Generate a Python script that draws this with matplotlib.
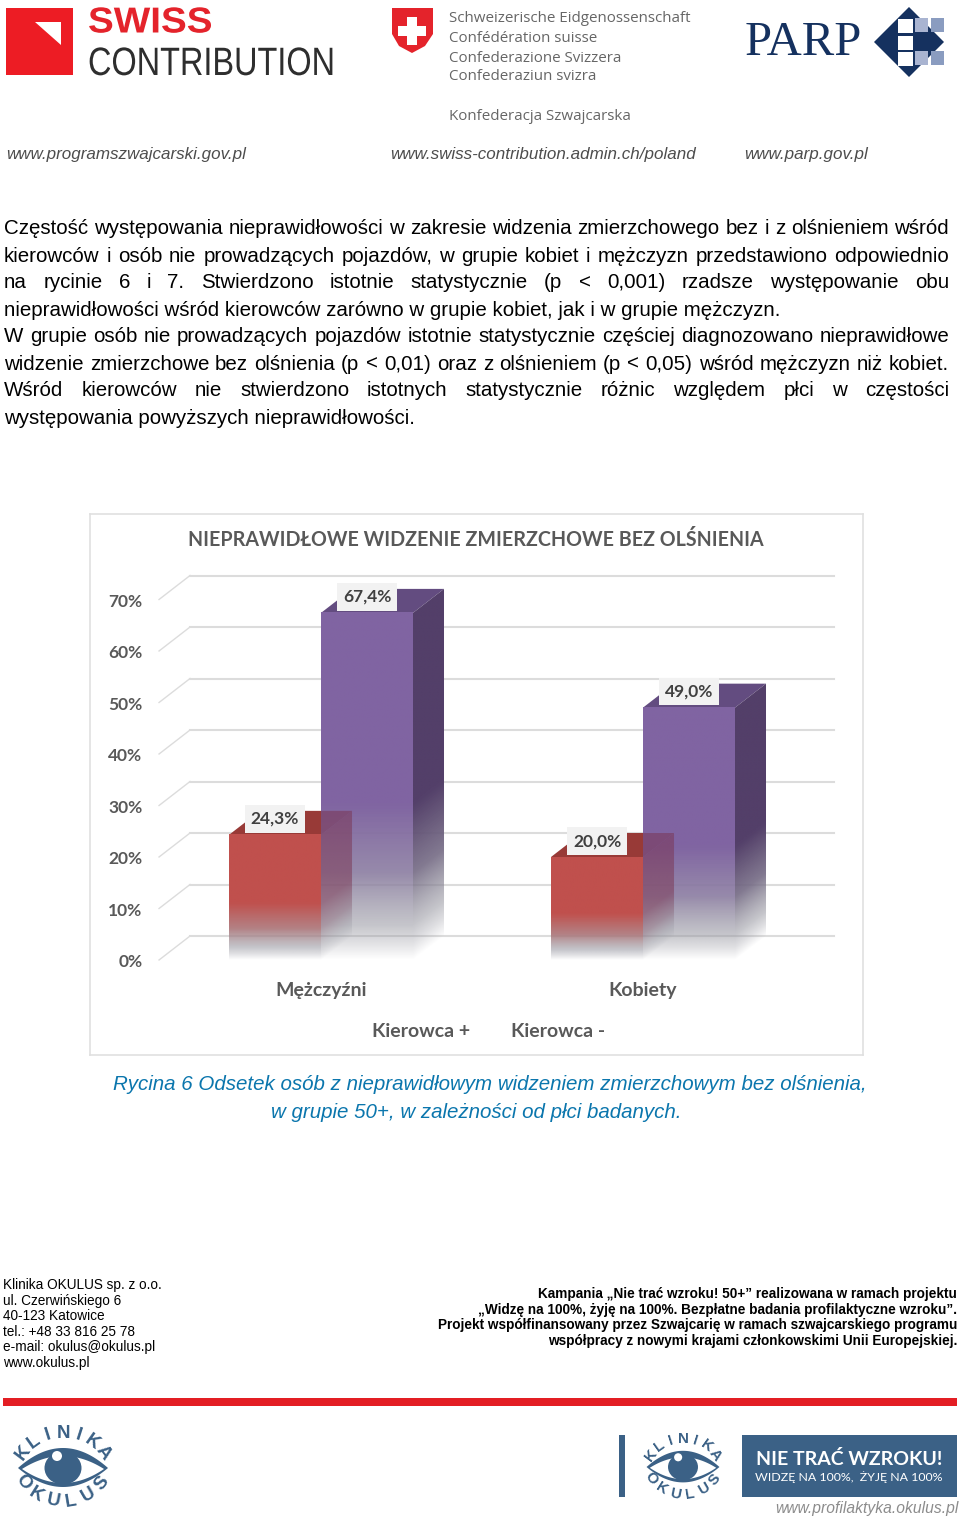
# recreate the page with the 3d-looking bar chart on it
import numpy as np
import matplotlib
matplotlib.use("Agg")
import matplotlib.pyplot as plt
from matplotlib.colors import to_rgb
from matplotlib.patches import Circle, Ellipse, Polygon, Rectangle
from matplotlib.patheffects import AbstractPathEffect
from matplotlib.transforms import Affine2D

# chart data
CATEGORIES = ["Mężczyźni", "Kobiety"]
SERIES_NAMES = ["Kierowca +", "Kierowca -"]
DRIVERS = [24.3, 20.0]
NON_DRIVERS = [67.4, 49.0]
Y_TICKS = [0, 10, 20, 30, 40, 50, 60, 70]
CHART_TITLE = "NIEPRAWIDŁOWE WIDZENIE ZMIERZCHOWE BEZ OLŚNIENIA"

# page text
BODY_LINES = [
    ("Częstość występowania nieprawidłowości w zakresie widzenia zmierzchowego bez i z olśnieniem wśród", True),
    ("kierowców i osób nie prowadzących pojazdów, w grupie kobiet i mężczyzn przedstawiono odpowiednio", True),
    ("na rycinie 6 i 7. Stwierdzono istotnie statystycznie (p < 0,001) rzadsze występowanie obu", True),
    ("nieprawidłowości wśród kierowców zarówno w grupie kobiet, jak i w grupie mężczyzn.", False),
    ("W grupie osób nie prowadzących pojazdów istotnie statystycznie częściej diagnozowano nieprawidłowe", True),
    ("widzenie zmierzchowe bez olśnienia (p < 0,01) oraz z olśnieniem (p < 0,05) wśród mężczyzn niż kobiet.", True),
    ("Wśród kierowców nie stwierdzono istotnych statystycznie różnic względem płci w częstości", True),
    ("występowania powyższych nieprawidłowości.", False),
]
CAPTION = ["Rycina 6 Odsetek osób z nieprawidłowym widzeniem zmierzchowym bez olśnienia,",
           "w grupie 50+, w zależności od płci badanych."]
FOOTER_LEFT = ["Klinika OKULUS sp. z o.o.", "ul. Czerwińskiego 6", "40-123 Katowice",
               "tel.: +48 33 816 25 78", "e-mail: okulus@okulus.pl", "www.okulus.pl"]
FOOTER_RIGHT = ["Kampania „Nie trać wzroku! 50+” realizowana w ramach projektu",
                "„Widzę na 100%, żyję na 100%. Bezpłatne badania profilaktyczne wzroku”.",
                "Projekt współfinansowany przez Szwajcarię w ramach szwajcarskiego programu",
                "współpracy z nowymi krajami członkowskimi Unii Europejskiej."]
SWISS_LINES = ["Schweizerische Eidgenossenschaft", "Confédération suisse",
               "Confederazione Svizzera", "Confederaziun svizra"]

# colors
RED_FRONT, RED_TOP, RED_SIDE = "#c0504d", "#983a37", "#7a324e"
PURPLE_FRONT, PURPLE_TOP, PURPLE_SIDE = "#8064a2", "#634c80", "#533f69"
GRID = "#dcdcdc"
CHART_TEXT = "#595959"
LOGO_BLUE = "#3b6186"

BAR_W = 0.2857
DEPTH_X = 0.0963
DEPTH_Y = 4.66

fig = plt.figure(figsize=(9.6, 15.18), dpi=100)

# page layer uses pixel coordinates, y going down
page = fig.add_axes([0, 0, 1, 1])
page.set_xlim(0, 960)
page.set_ylim(1518, 0)
page.axis("off")


# stretches a text sideways, the logo fonts have other widths than what we have here
class Squeeze(AbstractPathEffect):
    def __init__(self, sx):
        super().__init__()
        self.sx = sx

    def draw_path(self, renderer, gc, tpath, affine, rgbFace=None):
        renderer.draw_path(gc, tpath, Affine2D().scale(self.sx, 1) + affine, rgbFace)


def text_width(s, **kw):
    t = page.text(0, 0, s, **kw)
    w = t.get_window_extent(fig.canvas.get_renderer()).width
    t.remove()
    return w


# spread words between two x positions, like justified text in a document
def justified(s, y, x0, x1, **kw):
    words = s.split()
    widths = [text_width(w, **kw) for w in words]
    gap = (x1 - x0 - sum(widths)) / (len(words) - 1)
    x = x0
    for w, wd in zip(words, widths):
        page.text(x, y, w, va="center", ha="left", **kw)
        x += wd + gap


def arc_text(s, cx, cy, r, a0, a1, size, turn):
    for c, a in zip(s, np.linspace(a0, a1, len(s))):
        rad = np.radians(a)
        page.text(cx + r * np.cos(rad), cy - r * np.sin(rad), c, rotation=a + turn,
                  rotation_mode="anchor", ha="center", va="center", fontsize=size,
                  color=LOGO_BLUE, family="Liberation Sans", fontweight="bold")


def lens(cx, cy, half_w, up, down, color):
    xs = np.linspace(-half_w, half_w, 50)
    curve = 1 - (xs / half_w) ** 2
    pts = list(zip(cx + xs, cy - up * curve)) + list(zip(cx + xs[::-1], cy + down * curve[::-1]))
    page.add_patch(Polygon(pts, color=color, lw=0))


def eye_logo(cx, cy, k):
    lens(cx, cy, 45 * k, 20 * k, 19 * k, LOGO_BLUE)
    lens(cx, cy + 1 * k, 41 * k, 13 * k, 14 * k, "white")
    page.add_patch(Ellipse((cx, cy), 37 * k, 33 * k, color=LOGO_BLUE, lw=0))
    page.add_patch(Circle((cx - 6 * k, cy - 12 * k), 5 * k, color="white", lw=0))
    arc_text("KLINIKA", cx, cy + 15 * k, 50 * k, 143, 37, 13.5 * k, -90)
    arc_text("OKULUS", cx, cy - 16 * k, 50 * k, 217, 321, 13.5 * k, 90)


# header logos
page.add_patch(Rectangle((6, 8), 67, 67, color="#ed1c24", lw=0))
page.add_patch(Polygon([(35, 22), (61, 22), (61, 45)], color="white", lw=0))
page.text(88, 23, "SWISS", fontsize=26, fontweight="bold", color="#e4232b",
          family="Liberation Sans", va="center", path_effects=[Squeeze(1.07)])
page.text(88, 64, "CONTRIBUTION", fontsize=28.5, color="#2e2e2e", family="Liberation Sans",
          va="center", path_effects=[Squeeze(0.82)])

page.add_patch(Polygon([(392, 8), (433, 8), (433, 34), (425, 46), (412, 53), (399, 46), (392, 34)],
                       color="#e4232b", lw=0))
page.add_patch(Rectangle((407, 17), 10, 28, color="white", lw=0))
page.add_patch(Rectangle((398, 26), 28, 10, color="white", lw=0))
for line, y in zip(SWISS_LINES, [18, 38, 58, 77]):
    page.text(449, y, line, fontsize=10.9, color="#666666", family="Open Sans", va="center")
page.text(449, 117, "Konfederacja Szwajcarska", fontsize=10.9, color="#666666", family="Open Sans", va="center")

page.text(745, 43, "PARP", fontsize=35, color="#15315f", family="Liberation Serif", va="center")
page.add_patch(Polygon([(874, 42), (909, 7), (944, 42), (909, 77)], color="#15315f", lw=0))
for y in [19, 36, 52]:
    page.add_patch(Rectangle((898, y), 15, 14, color="white", lw=0))
for y in [18, 51]:
    page.add_patch(Rectangle((915, y), 13, 14, color="#a9b4d1", lw=0))
    page.add_patch(Rectangle((931, y), 13, 14, color="#8a9cc0", lw=0))

for s, x in [("www.programszwajcarski.gov.pl", 6), ("www.swiss-contribution.admin.ch/poland", 390),
             ("www.parp.gov.pl", 744)]:
    page.text(x, 155, s, fontsize=12.25, style="italic", color="#4d4d4d",
              family="Liberation Sans", va="center")

# body paragraph
body_kw = dict(fontsize=14.77, color="black", family="Liberation Sans")
for i, (line, just) in enumerate(BODY_LINES):
    y = 229 + i * 27.0
    if just:
        justified(line, y, 4, 949, **body_kw)
    else:
        page.text(4, y, line, va="center", **body_kw)

# caption under the chart
for line, y, x in zip(CAPTION, [1085, 1112], [490, 476.5]):
    page.text(x, y, line, ha="center", va="center", fontsize=14.73, style="italic",
              color="#0b76ad", family="Liberation Sans")

# footer
for i, line in enumerate(FOOTER_LEFT):
    page.text(3, 1285 + i * 15.6, line, va="center", fontsize=9.85, family="Liberation Sans")
for i, line in enumerate(FOOTER_RIGHT):
    page.text(957, 1294 + i * 15.7, line, ha="right", va="center", fontsize=9.8,
              fontweight="bold", family="Liberation Sans")

page.add_patch(Rectangle((3, 1398), 954, 8, color="#e31e24", lw=0))
eye_logo(63, 1468, 1.0)
page.add_patch(Rectangle((619, 1435), 6, 62, color=LOGO_BLUE, lw=0))
eye_logo(683, 1467, 0.81)
page.add_patch(Rectangle((742, 1435), 215, 62, color=LOGO_BLUE, lw=0))
page.text(849, 1459, "NIE TRAĆ WZROKU!", color="white", fontsize=14, fontweight="bold",
          family="Lato", ha="center", va="center")
page.text(849, 1477, "WIDZĘ NA 100%,  ŻYJĘ NA 100%", color="white", fontsize=8.9,
          family="Lato", ha="center", va="center")
page.text(959, 1509, "www.profilaktyka.okulus.pl", ha="right", va="center", fontsize=11.25,
          style="italic", color="#8c8c8c", family="Liberation Sans")

# chart axes sit on top of the frame, one category = 322 px, 1% = 5.15 px
ax = fig.add_axes([90 / 960, 1 - 1055 / 1518, 773 / 960, 541 / 1518])
ax.patch.set_alpha(0)
ax.set_xticks([])
ax.set_yticks([])
for sp in ax.spines.values():
    sp.set_color("#e0e0e0")
    sp.set_linewidth(1.2)


def fade_image(color, top, x0, x1, shear, strength=1.0):
    # bars fade out into grey and then to nothing in the lower 45% of their height
    xs = np.linspace(x0, x1, 60)
    ys = np.linspace(0, top + shear, 400)
    xx, yy = np.meshgrid(xs, ys)
    frac = (yy - shear * (xx - x0) / max(x1 - x0, 1e-6)) / top
    mix = np.interp(frac, [0, 0.1, 0.25, 0.45], [1, 1, 0.5, 0])
    alpha = np.interp(frac, [0, 0.05, 0.1, 0.25, 0.45], [0, 0.3, 0.55, 0.9, 1]) * strength
    base = np.array(to_rgb(color))
    grey = np.array([150, 150, 160]) / 255
    rgba = np.zeros(xx.shape + (4,))
    for k in range(3):
        rgba[..., k] = base[k] * (1 - mix) + grey[k] * mix
    rgba[..., 3] = alpha
    return rgba, [x0, x1, 0, top + shear]


def draw_front(x, value, color):
    rgba, ext = fade_image(color, value, x, x + BAR_W, 0)
    ax.imshow(rgba, extent=ext, origin="lower", aspect="auto", zorder=3, interpolation="bilinear")


def draw_side(x, value, color, z, strength=1.0):
    rgba, ext = fade_image(color, value, x, x + DEPTH_X, DEPTH_Y, strength)
    im = ax.imshow(rgba, extent=ext, origin="lower", aspect="auto", zorder=z, interpolation="bilinear")
    im.set_clip_path(Polygon([(x, 0), (x + DEPTH_X, DEPTH_Y), (x + DEPTH_X, value + DEPTH_Y), (x, value)],
                             transform=ax.transData))


def top_face(x, value, color, z):
    ax.add_patch(Polygon([(x, value), (x + BAR_W, value), (x + BAR_W + DEPTH_X, value + DEPTH_Y),
                          (x + DEPTH_X, value + DEPTH_Y)], fc=color, lw=0, zorder=z))


# back wall and left wall grid lines
for v in Y_TICKS:
    ax.plot([-0.503 + DEPTH_X, 1.592], [v + DEPTH_Y, v + DEPTH_Y], color=GRID, lw=1.5, zorder=1)
    ax.plot([-0.503, -0.503 + DEPTH_X], [v, v + DEPTH_Y], color=GRID, lw=1.0, zorder=1)
    ax.text(-0.555, v - 0.4, f"{v}%", ha="right", va="center", fontsize=12.5, fontweight="bold",
            color=CHART_TEXT, family="Lato", zorder=6)

for i, (red, purple) in enumerate(zip(DRIVERS, NON_DRIVERS)):
    # the red bar stands in front of the purple one, its side shows through
    top_face(i - BAR_W, red, RED_TOP, 2)
    draw_front(i - BAR_W, red, RED_FRONT)
    top_face(i, purple, PURPLE_TOP, 2)
    draw_front(i, purple, PURPLE_FRONT)
    draw_side(i + BAR_W, purple, PURPLE_SIDE, 2)
    # the bit of the red top that lies over the purple front
    ax.add_patch(Polygon([(i, red), (i + DEPTH_X, red + DEPTH_Y), (i, red + DEPTH_Y)],
                         fc=RED_SIDE, lw=0, alpha=0.5, zorder=4))
    draw_side(i, red, RED_SIDE, 4, strength=0.5)

    for x, val in [(i - BAR_W / 2, red), (i + BAR_W / 2, purple)]:
        ax.annotate(f"{val:.1f}%".replace(".", ","), (x, val), xytext=(0, 11.5), textcoords="offset points",
                    ha="center", va="center", fontsize=12.5, fontweight="bold", color="#404040",
                    family="Lato", zorder=7,
                    bbox=dict(fc="#f2f2f2", ec="none", boxstyle="square,pad=0.33"))
    ax.text(i, -6, CATEGORIES[i], ha="center", va="center", fontsize=14, fontweight="bold",
            color=CHART_TEXT, family="Lato")

# legend without color keys, that's how it shows in the original
for name, x in zip(SERIES_NAMES, [0.311, 0.736]):
    ax.text(x, -13.9, name, ha="center", va="center", fontsize=14, fontweight="bold",
            color=CHART_TEXT, family="Lato")

ax.text(0.481, 81.6, CHART_TITLE, ha="center", va="center", fontsize=14.13, fontweight="bold",
        color=CHART_TEXT, family="Lato")

ax.set_xlim((90 - 321) / 322, (863 - 321) / 322)
ax.set_ylim((960 - 1055) / 5.15, (960 - 514) / 5.15)

fig.savefig("out.png", dpi=100)
